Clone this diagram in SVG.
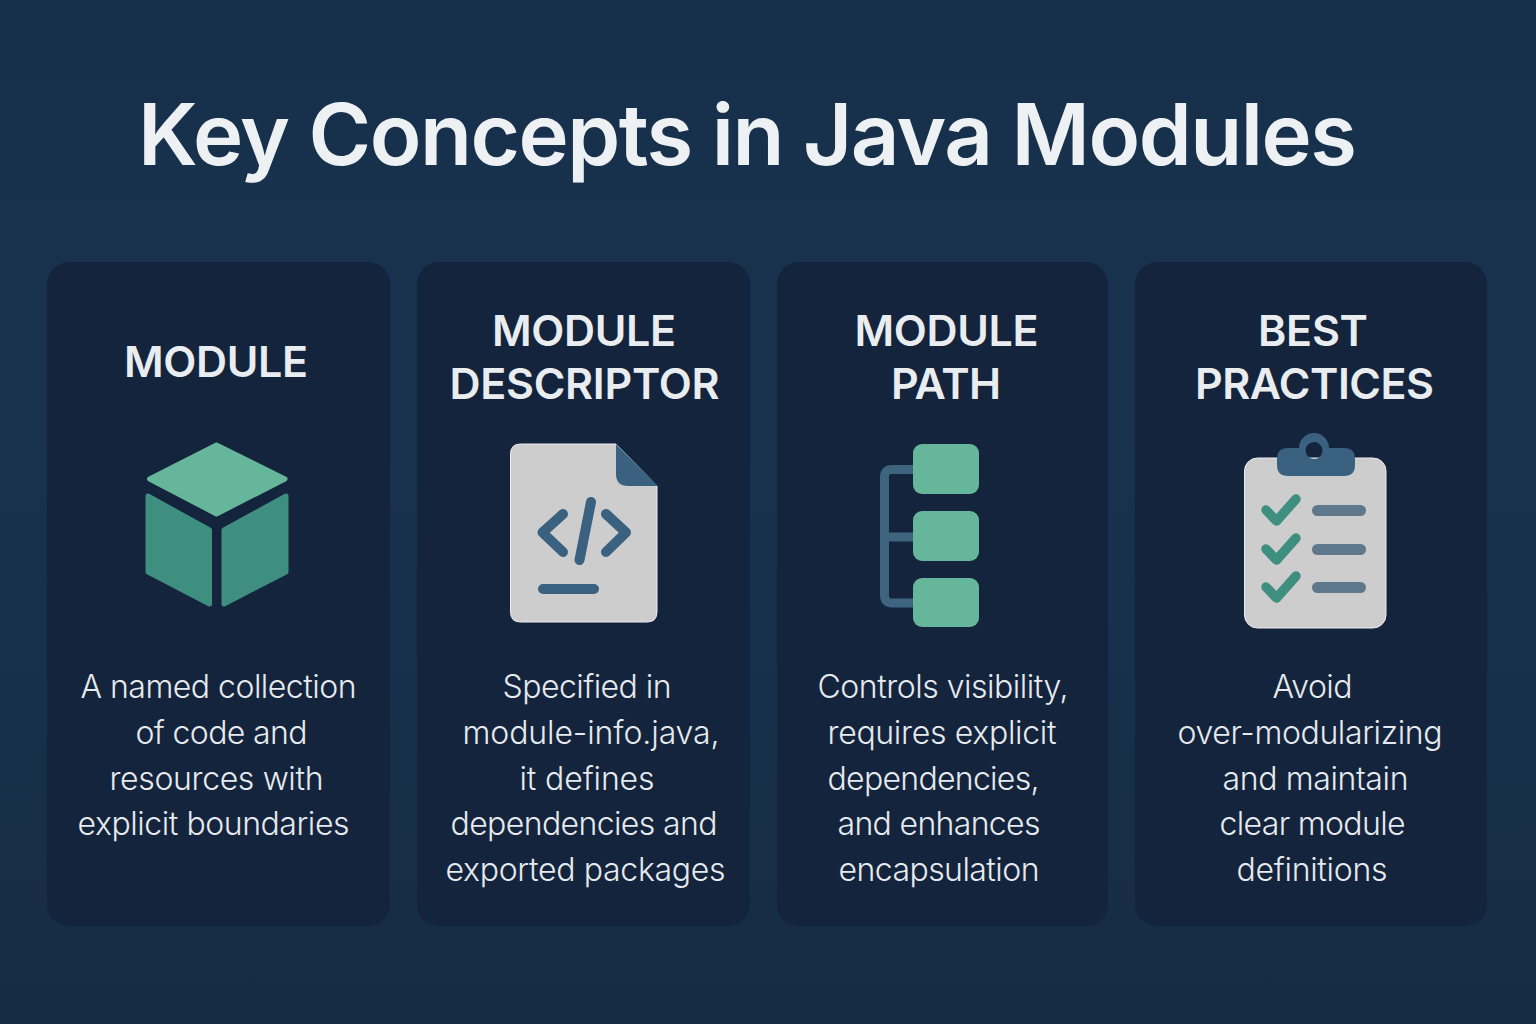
<svg xmlns="http://www.w3.org/2000/svg" width="1536" height="1024" viewBox="0 0 1536 1024">
<style>
.title{font:600 85px Inter,"Liberation Sans",sans-serif;fill:#eef1f4}
.head{font:600 43px Inter,"Liberation Sans",sans-serif;fill:#e9edf0;text-anchor:middle}
.body{font:300 32px Inter,"Liberation Sans",sans-serif;fill:#e6eaee;text-anchor:middle}
.card{fill:#13243c}
.paper{fill:#cdcdcd;stroke:#ececec;stroke-width:1}
.mint{fill:#65b69b}
.teal{fill:#3f8f80}
.blue{fill:#3b6180}
.bs{fill:none;stroke:#3b6180;stroke-width:10;stroke-linecap:round;stroke-linejoin:round}
.tree{fill:none;stroke:#3e6480;stroke-width:9;stroke-linejoin:round}
.chk{fill:none;stroke:#3f8f80;stroke-width:9.500;stroke-linecap:round;stroke-linejoin:round}
.bar{fill:#5f788c}
</style>
<defs>
<linearGradient id="bg" x1="0" y1="0" x2="0" y2="1">
<stop offset="0" stop-color="#162e49"/><stop offset=".25" stop-color="#18324e"/><stop offset=".6" stop-color="#18304c"/><stop offset="1" stop-color="#162b45"/>
</linearGradient>
</defs>
<rect width="1536" height="1024" fill="url(#bg)"/>
<g id="title"><text class="title" x="138" y="165" textLength="1219" lengthAdjust="spacing">Key Concepts in Java Modules</text></g>
<g id="connectors"/>
<g id="card-module">
<rect class="card" x="47" y="262" width="343" height="664" rx="22"/>
<text class="head" x="216" y="377" textLength="184">MODULE</text>
<path class="mint" stroke="#65b69b" stroke-width="5" stroke-linejoin="round" d="M216.500 445 L285 479 L216.500 514 L149.500 479 Z"/>
<path class="teal" stroke="#3f8f80" stroke-width="5" stroke-linejoin="round" d="M148 496 L209.500 530 V604 L148 572 Z"/>
<path class="teal" stroke="#3f8f80" stroke-width="5" stroke-linejoin="round" d="M286 496 V572 L224 604 V530 Z"/>
<text class="body" x="218.500" y="698" textLength="276">A named collection</text>
<text class="body" x="221.500" y="744" textLength="172">of code and</text>
<text class="body" x="216.500" y="790" textLength="214">resources with</text>
<text class="body" x="213.500" y="835" textLength="272">explicit boundaries</text>
</g>
<g id="card-descriptor">
<rect class="card" x="417" y="262" width="333" height="664" rx="22"/>
<text class="head" x="584" y="346" textLength="184">MODULE</text>
<text class="head" x="584.500" y="399" textLength="270">DESCRIPTOR</text>
<path class="paper" d="M520.500 444 H616 L657 486 V612 Q657 622 647 622 H520.500 Q510.500 622 510.500 612 V454 Q510.500 444 520.500 444 Z"/>
<path class="blue" d="M616 444 L658 486 H628 Q616 486 616 474 Z"/>
<path class="bs" d="M563 514 L542.500 532.500 L563 552 M606 514 L626 532.500 L606 552 M591 502 L579.500 560 M543 589 H594"/>
<text class="body" x="587" y="698" textLength="169">Specified in</text>
<text class="body" x="591" y="744" textLength="257">module-info.java,</text>
<text class="body" x="587" y="790" textLength="135">it defines</text>
<text class="body" x="584" y="835" textLength="267">dependencies and</text>
<text class="body" x="585.500" y="881" textLength="280">exported packages</text>
</g>
<g id="card-path">
<rect class="card" x="777" y="262" width="331" height="664" rx="22"/>
<text class="head" x="946.500" y="346" textLength="184">MODULE</text>
<text class="head" x="946" y="399" textLength="110">PATH</text>
<path class="tree" d="M914 469.500 H892 Q884.500 469.500 884.500 477 V595 Q884.500 603 892 603 H914 M884.500 537 H914"/>
<rect class="mint" x="913" y="444" width="66" height="50" rx="9"/>
<rect class="mint" x="913" y="511" width="66" height="50" rx="9"/>
<rect class="mint" x="913" y="578" width="66" height="49" rx="9"/>
<text class="body" x="943" y="698" textLength="251">Controls visibility,</text>
<text class="body" x="942" y="744" textLength="229">requires explicit</text>
<text class="body" x="933.500" y="790" textLength="212">dependencies,</text>
<text class="body" x="939" y="835" textLength="203">and enhances</text>
<text class="body" x="939" y="881" textLength="201">encapsulation</text>
</g>
<g id="card-practices">
<rect class="card" x="1135" y="262" width="352" height="664" rx="22"/>
<text class="head" x="1313" y="346" textLength="110">BEST</text>
<text class="head" x="1314.500" y="399" textLength="239">PRACTICES</text>
<rect class="paper" x="1244.500" y="458" width="141.500" height="170" rx="13"/>
<path class="blue" fill-rule="evenodd" d="M1288 448 H1299 A15 15 0 0 1 1329 448 H1344 Q1355 448 1355 459 V465 Q1355 476 1344 476 H1288 Q1277 476 1277 465 V459 Q1277 448 1288 448 Z M1314 442 A8.500 8.500 0 1 0 1314.100 459 A8.500 8.500 0 1 0 1314 442 Z"/>
<path class="chk" d="M1266 510 L1276.500 521 L1296 499"/>
<path class="chk" d="M1266 549 L1276.500 560 L1296 538"/>
<path class="chk" d="M1266 587 L1276.500 598 L1296 576"/>
<rect class="bar" x="1312" y="505" width="54" height="11" rx="5.500"/>
<rect class="bar" x="1312" y="544" width="54" height="11" rx="5.500"/>
<rect class="bar" x="1312" y="582" width="54" height="11" rx="5.500"/>
<text class="body" x="1312.500" y="698" textLength="80">Avoid</text>
<text class="body" x="1310" y="744" textLength="265">over-modularizing</text>
<text class="body" x="1315.500" y="790" textLength="186">and maintain</text>
<text class="body" x="1312.500" y="835" textLength="186">clear module</text>
<text class="body" x="1312" y="881" textLength="151">definitions</text>
</g>
</svg>
